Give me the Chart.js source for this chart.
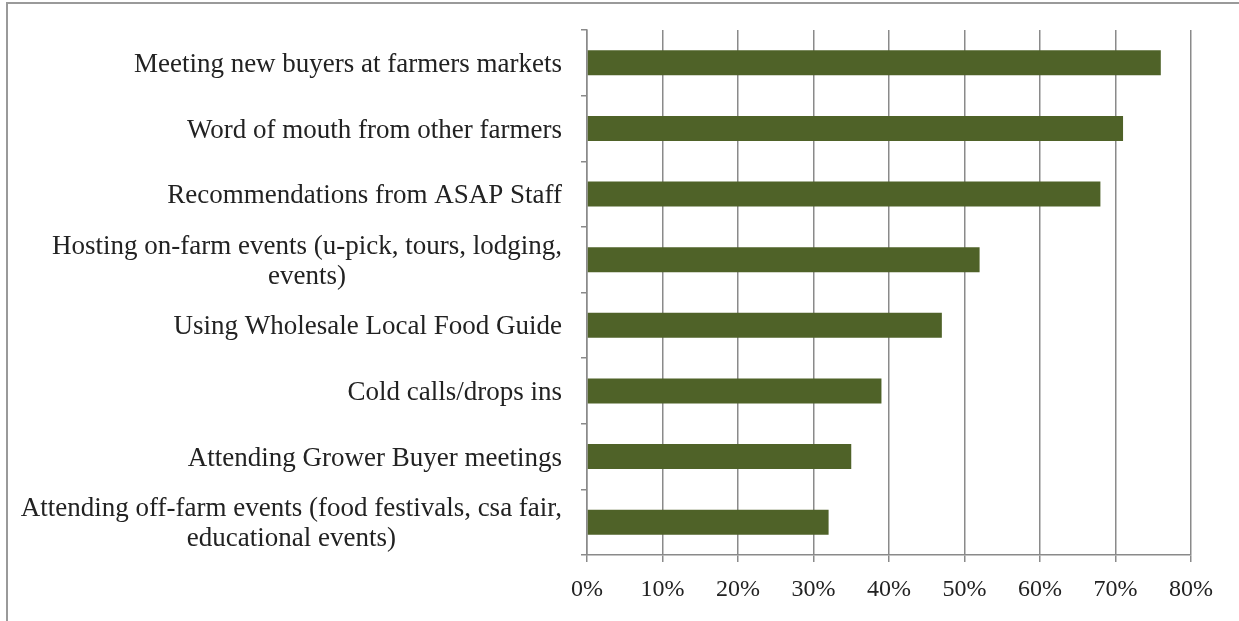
<!DOCTYPE html>
<html>
<head>
<meta charset="utf-8">
<title>Ways farmers find new buyers</title>
<script src="https://cdn.jsdelivr.net/npm/chart.js@4/dist/chart.umd.min.js"></script>
<style>
  html, body { margin: 0; padding: 0; background: #fff; }
  #wrap { position: absolute; left: 0; top: 0; width: 1239px; height: 621px; }
  #frame { position: absolute; left: 6px; top: 2px; right: 0; bottom: 0; border-top: 2px solid #9a9a9a; border-left: 2px solid #9a9a9a; pointer-events: none; }
</style>
</head>
<body>
<div id="wrap">
  <canvas id="chart" width="1239" height="621"></canvas>
  <div id="frame"></div>
</div>
<script>
// Categories (multi-line ones are split where the label wraps)
const categories = [
  ['Meeting new buyers at farmers markets'],
  ['Word of mouth from other farmers'],
  ['Recommendations from ASAP Staff'],
  ['Hosting on-farm events (u-pick, tours, lodging,', 'events)'],
  ['Using Wholesale Local Food Guide'],
  ['Cold calls/drops ins'],
  ['Attending Grower Buyer meetings'],
  ['Attending off-farm events (food festivals, csa fair,', 'educational events)']
];
// share of respondents, percent
const shares = [76, 71, 68, 52, 47, 39, 35, 32];
const xTicks = [0, 10, 20, 30, 40, 50, 60, 70, 80];

const barColor = '#4f6228';
const gridColor = '#8a8a8a';
const textColor = '#222';
const serif = '"Liberation Serif", "Times New Roman", serif';

// Category labels drawn by hand so a wrapped second line sits centred under the first
const wrappedLabels = {
  id: 'wrappedLabels',
  afterDraw(chart) {
    const y = chart.scales.y;
    const ctx = chart.ctx;
    const right = y.right - 25;
    ctx.save();
    ctx.font = '27px ' + serif;
    ctx.fillStyle = textColor;
    ctx.textBaseline = 'middle';
    ctx.textAlign = 'center';
    const lh = 30;
    categories.forEach((lines, i) => {
      const cy = y.getPixelForTick(i) + 2;
      const widest = Math.max(...lines.map((l) => ctx.measureText(l).width));
      const cx = right - widest / 2;
      const top = cy - (lines.length - 1) * lh / 2;
      lines.forEach((l, k) => ctx.fillText(l, cx, top + k * lh));
    });
    ctx.restore();
  }
};

new Chart(document.getElementById('chart'), {
  type: 'bar',
  data: {
    labels: categories.map((c) => c.join(' ')),
    datasets: [{ data: shares, backgroundColor: barColor, barPercentage: 0.38, categoryPercentage: 1 }]
  },
  options: {
    indexAxis: 'y',
    responsive: false,
    animation: false,
    layout: { padding: { top: 30, right: 48, left: 0, bottom: 0 } },
    plugins: { legend: { display: false }, tooltip: { enabled: false } },
    scales: {
      x: {
        min: 0, max: 80,
        afterBuildTicks: (s) => { s.ticks = xTicks.map((v) => ({ value: v })); },
        afterFit: (s) => { s.height = 66; },
        grid: { color: gridColor, lineWidth: 1.5, drawTicks: true, tickLength: 7, tickColor: gridColor },
        border: { color: gridColor, width: 1.5 },
        ticks: { color: textColor, padding: 13, font: { family: serif, size: 24 }, callback: (v) => v + '%' }
      },
      y: {
        afterFit: (s) => { s.width = 587; },
        grid: { drawOnChartArea: false, drawTicks: true, tickLength: 6, color: gridColor, lineWidth: 1.5 },
        border: { color: gridColor, width: 1.5 },
        ticks: { display: false }
      }
    }
  },
  plugins: [wrappedLabels]
});
</script>
</body>
</html>
